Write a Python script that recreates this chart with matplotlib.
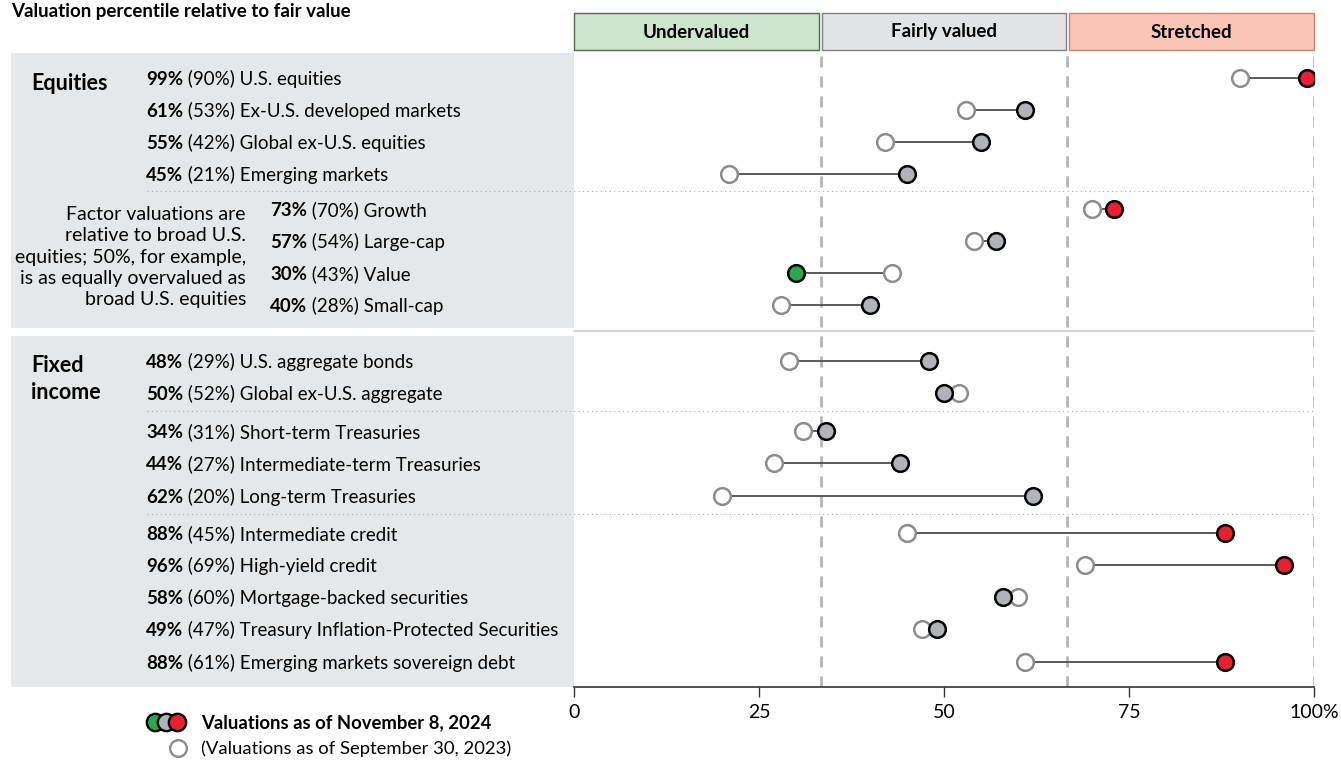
import numpy as np
import matplotlib.pyplot as plt
from matplotlib.patches import Rectangle

plt.rcParams['font.family'] = ['Lato', 'DejaVu Sans']

names = ['U.S. equities', 'Ex-U.S. developed markets', 'Global ex-U.S. equities',
         'Emerging markets', 'Growth', 'Large-cap', 'Value', 'Small-cap',
         'U.S. aggregate bonds', 'Global ex-U.S. aggregate', 'Short-term Treasuries',
         'Intermediate-term Treasuries', 'Long-term Treasuries', 'Intermediate credit',
         'High-yield credit', 'Mortgage-backed securities',
         'Treasury Inflation-Protected Securities', 'Emerging markets sovereign debt']
new_vals = [99, 61, 55, 45, 73, 57, 30, 40, 48, 50, 34, 44, 62, 88, 96, 58, 49, 88]
old_vals = [90, 53, 42, 21, 70, 54, 43, 28, 29, 52, 31, 27, 20, 45, 69, 60, 47, 61]
factor_rows = [4, 5, 6, 7]
zones = ['Undervalued', 'Fairly valued', 'Stretched']
ticks = [0, 25, 50, 75, 100]
tick_labels = ['0', '25', '50', '75', '100%']

# layout (pixel rows)
row_y = [78, 110, 142, 174, 209, 241, 273, 305, 361, 393, 431, 463, 496,
         533, 565, 597, 629, 662]
sep_y = [191, 411, 514]

W, H = 1341, 760
fig = plt.figure(figsize=(W / 100, H / 100), dpi=100)

# background / text layer in pixel coords
bg = fig.add_axes([0, 0, 1, 1], zorder=0)
bg.set_xlim(0, W)
bg.set_ylim(H, 0)
bg.axis('off')

FS = 13.5

panel_col = '#e6e7e8'
bg.add_patch(Rectangle((11, 53), 563, 275, color=panel_col, lw=0))
bg.add_patch(Rectangle((11, 336), 563, 351, color=panel_col, lw=0))
for y in sep_y:
    bg.plot([147, 1314], [y, y], ls=(0, (1, 3)), color='#a8a8a8', lw=0.8)
bg.plot([574, 1314], [331, 331], color='#c8c8c8', lw=1.2)

bg.text(11, 11, 'Valuation percentile relative to fair value', fontsize=13.5,
        fontweight='bold', va='center', ha='left')
bg.text(31, 83, 'Equities', fontsize=15.5, fontweight='bold', va='center')
bg.text(31, 379, 'Fixed\nincome', fontsize=15.5, fontweight='bold', va='center',
        linespacing=1.3)
bg.text(246, 257, 'Factor valuations are\nrelative to broad U.S.\n'
        'equities; 50%, for example,\nis as equally overvalued as\nbroad U.S. equities',
        fontsize=14, ha='right', va='center', linespacing=1.3)

for i, name in enumerate(names):
    x0 = 270 if i in factor_rows else 146
    t = bg.text(x0, row_y[i] + 1.5, f'{new_vals[i]}%', fontsize=FS, fontweight='bold',
                va='center', ha='left')
    bg.annotate(f' ({old_vals[i]}%) {name}', xy=(1, 0), xycoords=t,
                fontsize=FS, va='bottom', ha='left')

# legend
leg_y1, leg_y2 = 722, 748
for x, c in zip([155, 166, 177], ['#2aa84a', '#b1b3b6', '#e8202f']):
    bg.plot(x, leg_y1, 'o', ms=12.5, mfc=c, mec='black', mew=1.7)
bg.plot(178, leg_y2, 'o', ms=12, mfc='white', mec='#8c8c8c', mew=1.7)
bg.text(201, leg_y1 + 1, 'Valuations as of November 8, 2024', fontsize=13.3,
        fontweight='bold', va='center')
bg.text(201, leg_y2 + 1, '(Valuations as of September 30, 2023)', fontsize=13.3,
        va='center')

# plot layer
ax = fig.add_axes([574 / W, 1 - 687 / H, (1314 - 574) / W, (687 - 50) / H], zorder=1)
ax.patch.set_alpha(0)
ax.set_xlim(0, 100)
ax.set_ylim(687, 50)
for s in ['top', 'right', 'left']:
    ax.spines[s].set_visible(False)
ax.spines['bottom'].set_color('#333333')
ax.spines['bottom'].set_linewidth(1.2)
ax.set_yticks([])
ax.set_xticks(ticks)
ax.set_xticklabels(tick_labels, fontsize=14)
ax.tick_params(axis='x', length=7, width=1, color='#333333', pad=5)

zone_fill = ['#cde5cc', '#e2e3e5', '#f9c6b5']
zone_edge = ['#4f6e4e', '#7d7f82', '#c9826b']
bounds = [(0, 33.15), (33.55, 66.45), (66.85, 100)]
for (a, b), f, e, lab in zip(bounds, zone_fill, zone_edge, zones):
    ax.add_patch(Rectangle((a, 13), b - a, 37, facecolor=f, edgecolor=e, lw=1,
                           clip_on=False))
    ax.text((a + b) / 2, 32, lab, fontsize=13.5, fontweight='bold', ha='center',
            va='center')

for xv in [100 / 3, 200 / 3, 100]:
    ax.axvline(xv, color='#b5b6b8', lw=2, ls=(0, (4, 3.2)), zorder=1)


def dot_color(v):
    if v < 100 / 3:
        return '#2aa84a'
    if v > 200 / 3:
        return '#e8202f'
    return '#b1b3b6'


for i in range(len(names)):
    y = row_y[i]
    ax.plot([old_vals[i], new_vals[i]], [y, y], color='#4d4d4d', lw=1.3, zorder=2)
    ax.plot(old_vals[i], y, 'o', ms=12, mfc='white', mec='#8c8c8c', mew=1.8, zorder=3)
    ax.plot(new_vals[i], y, 'o', ms=12, mfc=dot_color(new_vals[i]), mec='black',
            mew=1.8, zorder=4)

fig.savefig('out.png', dpi=100)
